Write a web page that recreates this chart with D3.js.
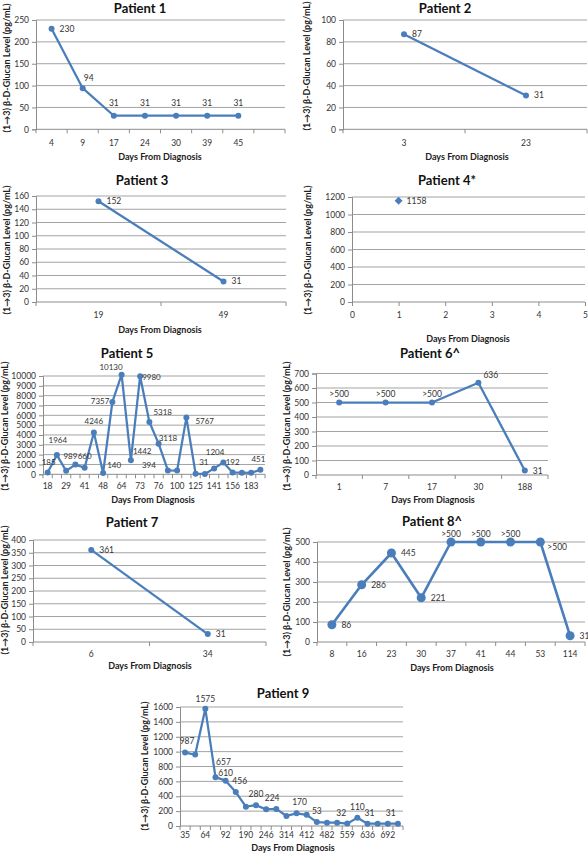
<!DOCTYPE html>
<html><head><meta charset="utf-8">
<script src="https://cdn.jsdelivr.net/npm/d3@7"></script>
<style>
body{margin:0;background:#fff;}
svg{display:block;font-family:Lato,"Open Sans",sans-serif;}
</style></head><body>
<svg id="c" width="588" height="853"></svg>
<script>
// ---------------- DATA ----------------
const yTitleText = "(1→3) β-D-Glucan Level (pg/mL)";
const xTitleText = "Days From Diagnosis";

const p1Days = ["4","9","17","24","30","39","45",""];
const p1Values = [230,94,31,31,31,31,31,null];
const p1Labels = ["230","94","31","31","31","31","31",null];

const p2Days = ["3","23"];
const p2Values = [87,31];
const p2Labels = ["87","31"];

const p3Days = ["19","49"];
const p3Values = [152,31];
const p3Labels = ["152","31"];

const p4Days = [1];
const p4Values = [1158];
const p4Labels = ["1158"];

const p5Days = ["18","22","29","36","41","45","48","57","64","69","73","74","76","90","100","112","125","133","141","148","156","170","183","190"];
const p5Values = [185,1964,350,989,660,4246,140,7357,10130,1442,9980,5318,3118,394,380,5767,60,31,600,1204,192,170,150,451];
const p5Labels = ["185","1964",null,"989","660","4246","140","7357","10130","1442","9980","5318","3118","394",null,"5767",null,"31",null,"1204","192",null,null,"451"];

const p6Days = ["1","7","17","30","188"];
const p6Values = [500,500,500,636,31];
const p6Labels = [">500",">500",">500","636","31"];

const p7Days = ["6","34"];
const p7Values = [361,31];
const p7Labels = ["361","31"];

const p8Days = ["8","16","23","30","37","41","44","53","114"];
const p8Values = [86,286,445,221,500,500,500,500,31];
const p8Labels = ["86","286","445","221",">500",">500",">500",">500","31"];

const p9Days = ["35","50","64","78","92","150","190","218","246","280","314","360","412","450","482","520","559","600","636","664","692","720"];
const p9Values = [987,960,1575,657,610,456,260,280,224,230,135,170,150,53,45,45,32,110,31,31,31,31];
const p9Labels = ["987",null,"1575","657","610","456",null,"280","224",null,null,"170",null,"53",null,null,"32","110","31",null,"31",null];

// ---------------- LAYOUT ----------------
// label placement: code or explicit offset {dx, dy (baseline), a (anchor)}
const A = (dx,dy,a) => ({dx,dy,a:a||"middle"});
const panels = [
 {title:"Patient 1", days:p1Days, values:p1Values, labels:p1Labels, ymax:250, step:50,
  left:36, right:285, top:20, bottom:129.3, titleX:140, titleY:8, xLabelY:143, xTitleX:160, xTitleY:157, yTitleX:7, yTitleY:68,
  place:[A(8,3,"start"),A(6,-7),A(0,-10),A(0,-10),A(0,-10),A(0,-10),A(0,-10)]},
 {title:"Patient 2", days:p2Days, values:p2Values, labels:p2Labels, ymax:100, step:20,
  left:343, right:587, top:20, bottom:129.3, titleX:445, titleY:8, xLabelY:143, xTitleX:467, xTitleY:157, yTitleX:307, yTitleY:66,
  place:["r","r"]},
 {title:"Patient 3", days:p3Days, values:p3Values, labels:p3Labels, ymax:160, step:20,
  left:36, right:286, top:196, bottom:302, titleX:142, titleY:180, xLabelY:315, xTitleX:160, xTitleY:330, yTitleX:7, yTitleY:250,
  place:["r","r"]},
 {title:"Patient 4*", days:p4Days, values:p4Values, labels:p4Labels, ymax:1200, step:200, numeric:true, xDomain:[0,5],
  left:352, right:585, top:197, bottom:302, titleX:447, titleY:180, xLabelY:315, xTitleX:468, xTitleY:339, yTitleX:308, yTitleY:250,
  place:["r"], diamond:true},
 {title:"Patient 5", days:p5Days, values:p5Values, labels:p5Labels, ymax:10000, step:1000, every:2, labelSize:8,
  left:43, right:265, top:376, bottom:474.3, titleX:127, titleY:353, xLabelY:486, xTitleX:153, xTitleY:500, yTitleX:5, yTitleY:426,
  place:[A(1,-7),A(1,-12),null,A(-5,-6),A(0,-9),A(0,-9),A(4,-5,"start"),A(-3,2,"end"),A(1,-5,"end"),A(2,-6,"start"),
         A(2,4,"start"),A(4,-7,"start"),A(0,-3,"start"),A(-12,-2,"end"),null,A(9,6,"start"),null,A(-1,-9),null,A(1,-7,"end"),
         A(0,-7),null,null,A(-2,-8)]},
 {title:"Patient 6^", days:p6Days, values:p6Values, labels:p6Labels, ymax:700, step:100,
  left:316, right:548, top:373.5, bottom:475, titleX:430, titleY:353, xLabelY:487, xTitleX:433, xTitleY:500, yTitleX:287, yTitleY:426,
  place:[A(0,-6),A(0,-6),A(0,-6),A(5,-5,"start"),"r"]},
 {title:"Patient 7", days:p7Days, values:p7Values, labels:p7Labels, ymax:400, step:50,
  left:33, right:266, top:540, bottom:642, titleX:132, titleY:522, xLabelY:654, xTitleX:150, xTitleY:666, yTitleX:5, yTitleY:590,
  place:["r","r"]},
 {title:"Patient 8^", days:p8Days, values:p8Values, labels:p8Labels, ymax:500, step:100, big:true,
  left:317, right:585, top:542, bottom:642, titleX:432, titleY:521, xLabelY:654, xTitleX:452, xTitleY:668, yTitleX:287, yTitleY:592,
  place:["r","r","r","r",A(0,-5),A(0,-5),A(0,-5),A(7,8,"start"),"r"]},
 {title:"Patient 9", days:p9Days, values:p9Values, labels:p9Labels, ymax:1600, step:200, every:2,
  left:180, right:403, top:707, bottom:826, titleX:283, titleY:693, xLabelY:835, xTitleX:293, xTitleY:848, yTitleX:145, yTitleY:766,
  place:[A(2,-9),null,A(0,-7),A(8,-12),A(0,-5),A(4,-8),null,A(0,-8),A(6,-8),null,null,A(3,-8),null,A(0,-8),null,null,
         A(-6,-8),A(0,-8),A(2,-8),null,A(3,-8),null]}
];

const svg = d3.select("#c");
const lineColor = "#4a7ebb";
const gridColor = "#a3a3a3";
const axisColor = "#8c8c8c";
const textColor = "#333";

function labelOffset(code, r){
  if (code && typeof code === "object") return {dx:code.dx, dy:code.dy, anchor:code.a};
  switch(code){
    case "r":  return {dx:r+5, dy:3, anchor:"start"};
    default:   return {dx:0, dy:-r-5, anchor:"middle"};
  }
}

panels.forEach(p => {
  const g = svg.append("g");
  const y = d3.scaleLinear().domain([0,p.ymax]).range([p.bottom,p.top]);
  const ticks = d3.range(0, p.ymax + p.step/2, p.step);
  let xPos, x;
  if (p.numeric){
    x = d3.scaleLinear().domain(p.xDomain).range([p.left,p.right]);
    xPos = (d,i) => x(p.days[i]);
  } else {
    x = d3.scaleBand().domain(p.days.map((d,i)=>i)).range([p.left,p.right]).padding(0);
    xPos = (d,i) => x(i) + x.bandwidth()/2;
  }

  // gridlines
  g.append("g").selectAll("line").data(ticks.filter(t=>t>0)).join("line")
    .attr("x1",p.left).attr("x2",p.right)
    .attr("y1",d=>y(d)).attr("y2",d=>y(d))
    .attr("stroke",gridColor).attr("stroke-width",1);

  // y axis
  const ya = g.append("g").attr("transform",`translate(${p.left},0)`)
    .call(d3.axisLeft(y).tickValues(ticks).tickSize(4).tickPadding(3).tickFormat(d3.format("d")));
  ya.select(".domain").attr("stroke",axisColor);
  ya.selectAll(".tick line").attr("stroke",axisColor);
  ya.selectAll(".tick text").attr("fill",textColor).style("font-size","8.5px").style("font-family","Lato");

  // x axis
  let xa;
  if (p.numeric){
    xa = g.append("g").attr("transform",`translate(0,${p.bottom})`)
      .call(d3.axisBottom(x).ticks(5).tickSize(4).tickFormat(d3.format("d")));
    xa.selectAll(".tick line").attr("stroke",axisColor);
  } else {
    xa = g.append("g").attr("transform",`translate(0,${p.bottom})`)
      .call(d3.axisBottom(x).tickSize(0).tickFormat(i => (p.every && i % p.every) ? "" : p.days[i]));
    const n = p.days.length;
    g.append("g").selectAll("line").data(d3.range(n+1)).join("line")
      .attr("x1",i=>p.left + i*x.step()).attr("x2",i=>p.left + i*x.step())
      .attr("y1",p.bottom).attr("y2",p.bottom+4)
      .attr("stroke",axisColor);
  }
  xa.select(".domain").attr("stroke",axisColor).attr("d",`M${p.left},0H${p.right}`);
  xa.selectAll(".tick text").attr("fill",textColor).style("font-size","8.5px").style("font-family","Lato")
    .attr("y", p.xLabelY - p.bottom).attr("dy","0.35em");

  // titles
  g.append("text").attr("x",p.titleX).attr("y",p.titleY).attr("dy","0.35em")
    .attr("text-anchor","middle").style("font-size","13px").style("font-weight","bold").attr("fill","#111")
    .text(p.title);
  g.append("text").attr("x",p.xTitleX).attr("y",p.xTitleY).attr("dy","0.35em")
    .attr("text-anchor","middle").style("font-size","9px").style("font-weight","bold").attr("fill","#222")
    .text(xTitleText);
  g.append("text").attr("transform",`translate(${p.yTitleX},${p.yTitleY}) rotate(-90)`).attr("dy","0.35em")
    .attr("text-anchor","middle").style("font-size","9px").style("font-weight","bold").attr("fill","#222")
    .text(yTitleText);

  // data
  const pts = p.values.map((v,i)=>({v,i,lab:p.labels[i]})).filter(d=>d.v!=null);
  const r = p.big ? 4.5 : 3;
  if (!p.diamond){
    const line = d3.line().x(d=>xPos(d,d.i)).y(d=>y(d.v));
    g.append("path").datum(pts).attr("d",line).attr("fill","none")
      .attr("stroke",lineColor).attr("stroke-width",p.big?2.6:2.25).attr("stroke-linejoin","round");
    g.append("g").selectAll("circle").data(pts).join("circle")
      .attr("cx",d=>xPos(d,d.i)).attr("cy",d=>y(d.v)).attr("r",r).attr("fill",lineColor);
  } else {
    g.append("g").selectAll("path").data(pts).join("path")
      .attr("d",d3.symbol(d3.symbolDiamond2, 40))
      .attr("transform",d=>`translate(${xPos(d,d.i)},${y(d.v)})`).attr("fill",lineColor);
  }
  g.append("g").selectAll("text").data(pts.filter(d=>d.lab)).join("text")
    .each(function(d){
      const o = labelOffset(p.place[d.i], r);
      d3.select(this).attr("x",xPos(d,d.i)+o.dx).attr("y",y(d.v)+o.dy).attr("text-anchor",o.anchor);
    })
    .style("font-size",(p.labelSize||8.5)+"px").attr("fill",textColor).text(d=>d.lab);
});
</script>
</body></html>
